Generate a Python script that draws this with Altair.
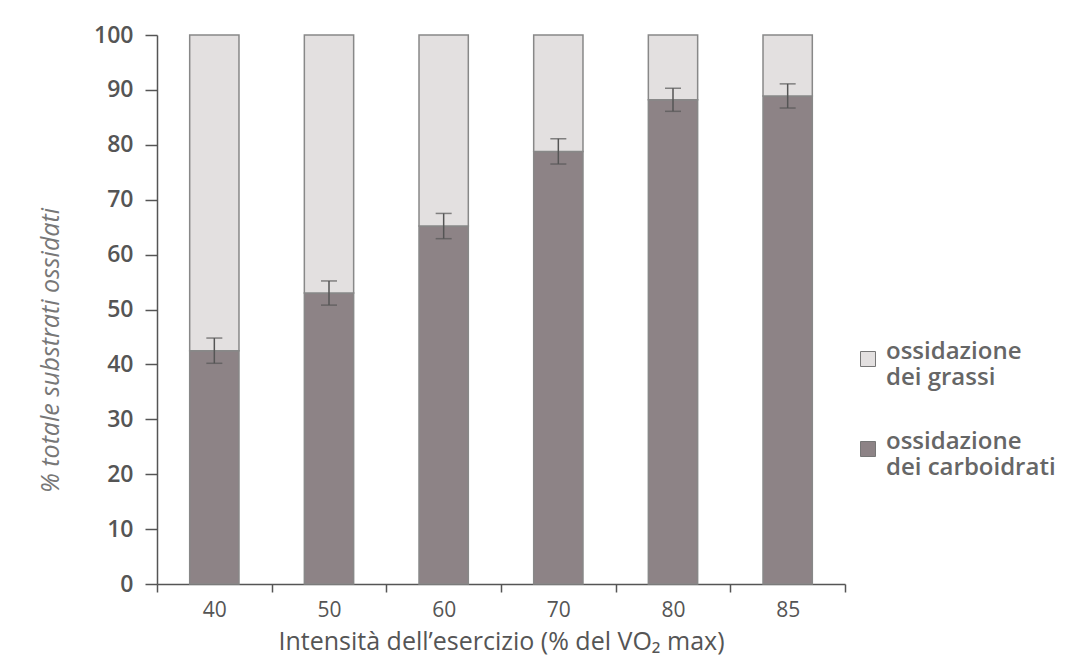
import altair as alt
import pandas as pd

intensities = ["40", "50", "60", "70", "80", "85"]
carb = [42.5, 53.0, 65.2, 78.8, 88.2, 88.9]
fat = [57.5, 47.0, 34.8, 21.2, 11.8, 11.1]
err = [2.3, 2.2, 2.3, 2.3, 2.1, 2.2]
series = ["ossidazione dei grassi", "ossidazione dei carboidrati"]
colors = ["#e3e0e0", "#8d8386"]

rows = []
for i, x in enumerate(intensities):
    rows.append({"x": x, "serie": series[1], "v": carb[i], "ord": 0})
    rows.append({"x": x, "serie": series[0], "v": fat[i], "ord": 1})
df = pd.DataFrame(rows)
edf = pd.DataFrame({"x": intensities, "lo": [c - e for c, e in zip(carb, err)],
                    "hi": [c + e for c, e in zip(carb, err)]})

FONT = "Open Sans"
xenc = alt.X("x:N", sort=intensities,
             scale=alt.Scale(paddingInner=0, paddingOuter=0),
             axis=alt.Axis(title="Intensità dell’esercizio (% del VO₂ max)",
                           labelAngle=0, tickBand="extent", tickSize=8,
                           labelPadding=7, titlePadding=9,
                           labelFontSize=21, titleFontSize=25,
                           labelFontWeight=500, titleFontWeight="normal",
                           labelColor="#555", titleColor="#555",
                           domainColor="#555", tickColor="#555",
                           domainWidth=1.5, tickWidth=1.5,
                           labelFont=FONT, titleFont=FONT))

bars = alt.Chart(df).mark_bar(stroke="#888", strokeWidth=1.5,
                              width=alt.RelativeBandSize(0.43)).encode(
    x=xenc,
    y=alt.Y("v:Q", stack="zero",
            scale=alt.Scale(domain=[0, 100], nice=False),
            axis=alt.Axis(title="% totale substrati ossidati", values=list(range(0, 101, 10)),
                          grid=False, tickSize=12, labelPadding=12, titlePadding=30,
                          titleY=315,
                          labelFontSize=23, titleFontSize=25, labelFontWeight=600,
                          titleFontStyle="italic", titleFontWeight="normal",
                          labelColor="#555", titleColor="#777",
                          domainColor="#555", tickColor="#555",
                          domainWidth=1.5, tickWidth=1.5,
                          labelFont=FONT, titleFont=FONT)),
    color=alt.Color("serie:N", scale=alt.Scale(domain=series, range=colors),
                    legend=alt.Legend(title=None, orient="none", legendX=699, legendY=312,
                                      symbolType="square", symbolSize=225,
                                      symbolStrokeColor="#777", symbolStrokeWidth=1,
                                      labelFontSize=24, labelColor="#666",
                                      labelFontWeight=600, labelFont=FONT,
                                      labelBaseline="alphabetic", labelOffset=6,
                                      rowPadding=40, labelLimit=300,
                                      labelExpr="datum.label == 'ossidazione dei grassi' ? ['ossidazione', 'dei grassi'] : ['ossidazione', 'dei carboidrati']")),
    order=alt.Order("ord:Q"),
)

rule = alt.Chart(edf).mark_rule(color="#555", strokeWidth=1.5).encode(
    x=alt.X("x:N", sort=intensities), y="lo:Q", y2="hi:Q")
tlo = alt.Chart(edf).mark_tick(color="#555", size=16, thickness=1.5).encode(
    x=alt.X("x:N", sort=intensities), y="lo:Q")
thi = alt.Chart(edf).mark_tick(color="#555", size=16, thickness=1.5).encode(
    x=alt.X("x:N", sort=intensities), y="hi:Q")

chart = alt.layer(bars, rule, tlo, thi).properties(
    width=688, height=549,
    autosize=alt.AutoSizeParams(type="none"),
    padding={"left": 149, "top": 27, "right": 217, "bottom": 74},
    background="white",
).configure_view(stroke=None)

chart.save("out.html", embed_options={"renderer": "svg", "actions": False})
